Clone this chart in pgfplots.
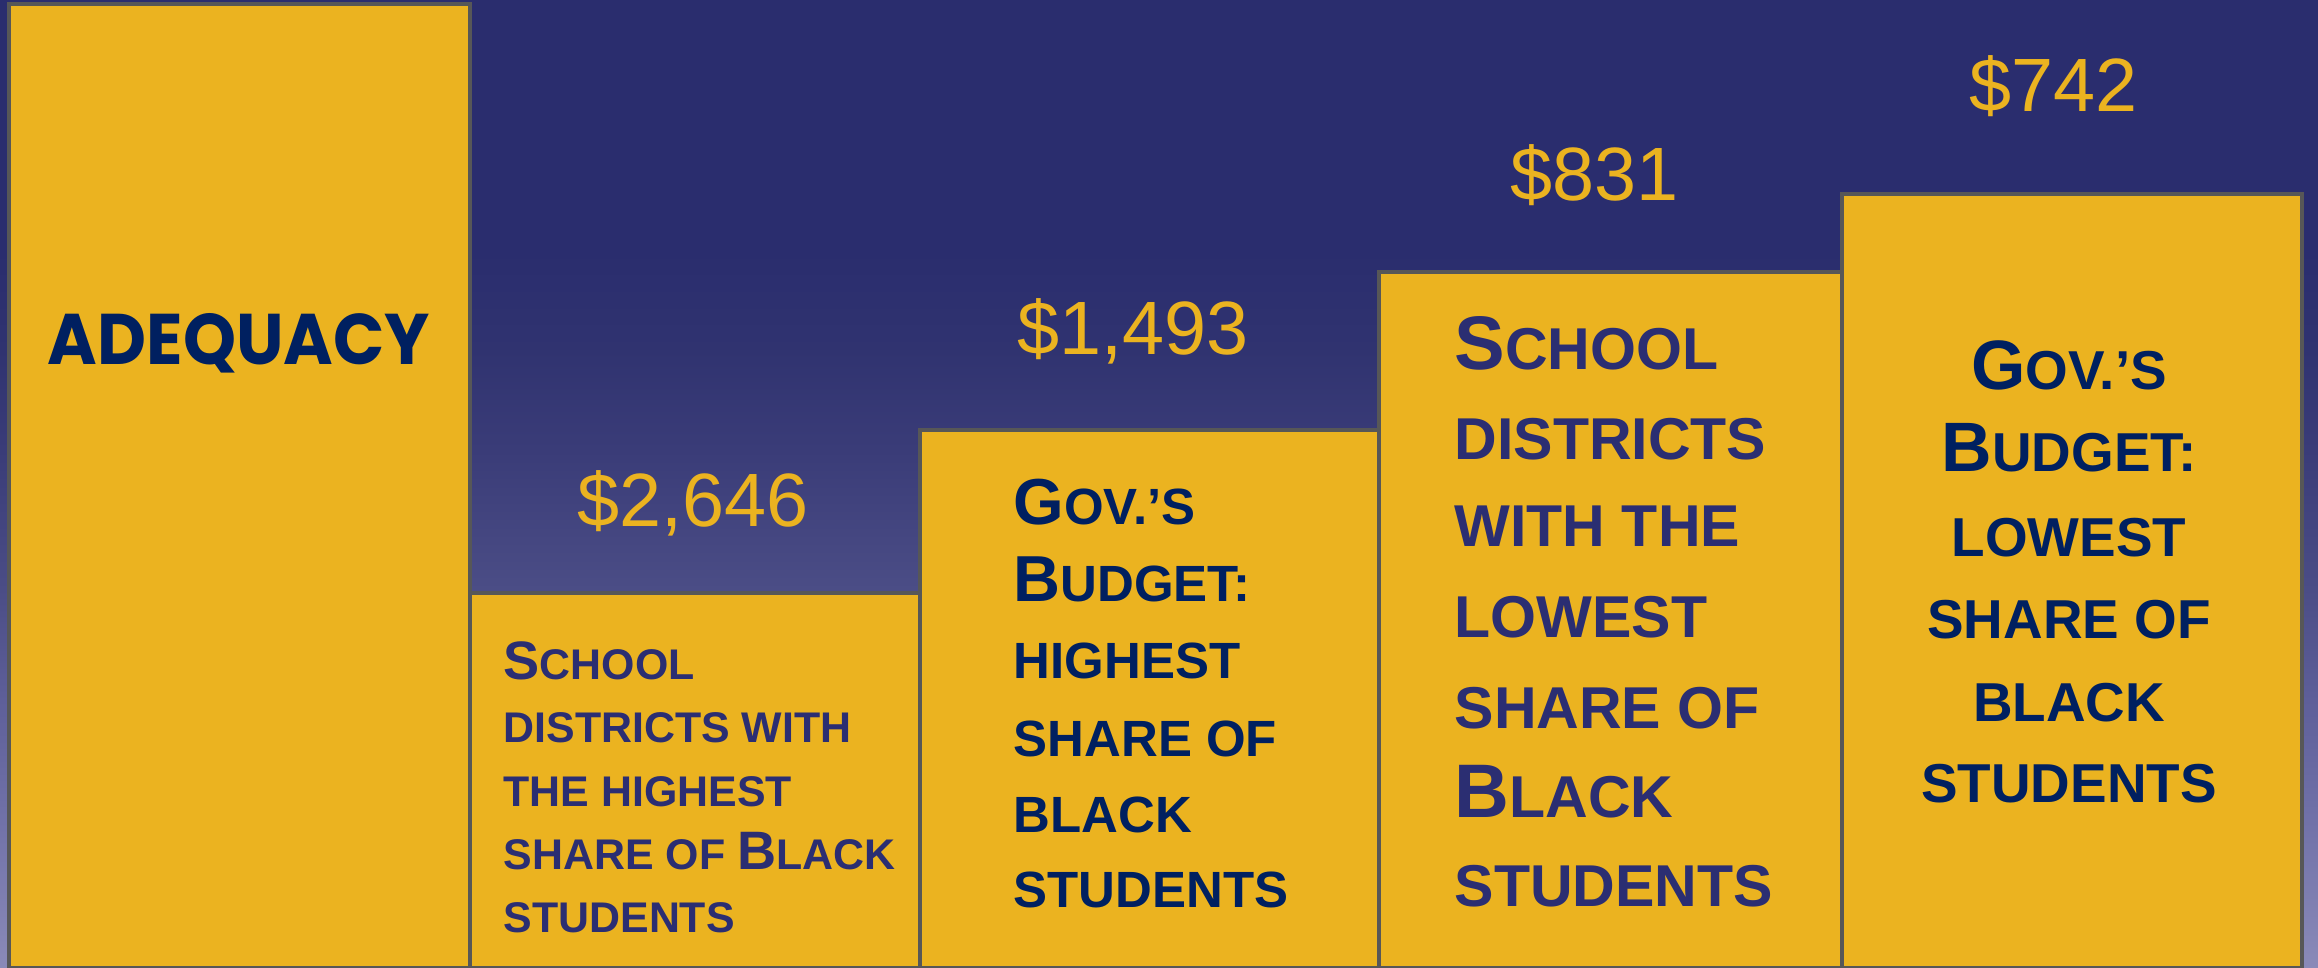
\documentclass[border=0pt]{standalone}
\usepackage{pgfplots}
\pgfplotsset{compat=1.18}
\usepackage{fontspec}
\setmainfont{Liberation Sans}
\newfontfamily\adqfont{Poppins}
\definecolor{gold}{HTML}{EBB320}
\definecolor{edge}{HTML}{575757}
\definecolor{navyA}{HTML}{002060}
\definecolor{navyB}{HTML}{2B2E72}
\definecolor{bg0}{HTML}{2A2D6E}
\definecolor{bg1}{HTML}{2A2D6E}
\definecolor{bg2}{HTML}{303370}
\definecolor{bg3}{HTML}{3A3C78}
\definecolor{bg4}{HTML}{4B4D86}
\definecolor{bg5}{HTML}{5E5F99}
\definecolor{bg6}{HTML}{6F70A7}
\definecolor{bg7}{HTML}{8A8AB8}
\pgfdeclareverticalshading{bgshade}{100bp}{color(0bp)=(bg7); color(25bp)=(bg7); color(33.16bp)=(bg6); color(38.84bp)=(bg5); color(44.52bp)=(bg4); color(51.76bp)=(bg3); color(56.92bp)=(bg2); color(62.09bp)=(bg1); color(75bp)=(bg0); color(100bp)=(bg0)}
\newcommand{\BigL}[2]{{\fontsize{#1}{#1}\selectfont #2}}
\newcommand{\Ln}[3]{\node[anchor=base west, inner sep=0pt] at (#1,#2) {#3};}
\newcommand{\Lc}[3]{\node[anchor=base, inner sep=0pt] at (#1,#2) {#3};}
\pgfplotsset{barsty/.style={fill=gold, draw=edge, line width=1pt},
  lbl/.style={every node near coord/.append style={anchor=base, text=gold, inner sep=0pt, font=\fontsize{21.5pt}{24pt}\selectfont}}}
\begin{document}
\begin{tikzpicture}
\useasboundingbox (0,0) rectangle (23.18,9.68);
\shade[shading=bgshade] (0,0) rectangle (23.18,9.68);
\begin{axis}[at={(0,0)}, anchor=south west, scale only axis,
  width=23.18cm, height=9.68cm,
  xmin=-0.5196, xmax=4.5349, ymin=5, ymax=973,
  hide axis, ybar, bar width=1, bar shift=0, clip=true]
% Adequacy
\addplot[barsty, bar width=1.005, bar shift=0.0026] coordinates {(0,969)};
% Districts with highest share of Black students
\addplot[barsty, bar width=0.9813, bar shift=-0.0041, lbl, nodes near coords={\$2,646},
  every node near coord/.append style={xshift=-0.02cm, yshift=0.66cm}] coordinates {(1,380)};
% Gov.'s budget: highest share
\addplot[barsty, bar width=1.0009, bar shift=-0.0131, lbl, nodes near coords={\$1,493},
  every node near coord/.append style={xshift=-0.16cm, yshift=0.75cm}] coordinates {(2,543)};
% Districts with lowest share
\addplot[barsty, bar width=1.0096, bar shift=-0.0078, lbl, nodes near coords={\$831},
  every node near coord/.append style={xshift=-0.16cm, yshift=0.71cm}] coordinates {(3,701)};
% Gov.'s budget: lowest share
\addplot[barsty, bar width=1.003, bar shift=-0.0016, lbl, nodes near coords={\$742},
  every node near coord/.append style={xshift=-0.18cm, yshift=0.82cm}] coordinates {(4,779)};
\end{axis}
% bar texts
\node[anchor=base, inner sep=0pt, xscale=0.94, text=navyA, font=\adqfont\bfseries\fontsize{20.4pt}{24pt}\selectfont] at (2.39,6.03) {ADEQUACY};
\begin{scope}[every node/.style={text=navyB, font=\bfseries\fontsize{12.2pt}{14pt}\selectfont}]
\Ln{5.03}{2.88}{\BigL{15.4pt}{S}CHOOL}
\Ln{5.03}{2.25}{DISTRICTS WITH}
\Ln{5.03}{1.61}{THE HIGHEST}
\Ln{5.03}{0.98}{SHARE OF \BigL{15.4pt}{B}LACK}
\Ln{5.03}{0.35}{STUDENTS}
\end{scope}
\begin{scope}[every node/.style={text=navyA, font=\bfseries\fontsize{14.5pt}{16pt}\selectfont}]
\Ln{10.13}{4.43}{\BigL{18.5pt}{G}OV.’S}
\Ln{10.13}{3.66}{\BigL{18.5pt}{B}UDGET:}
\Ln{10.13}{2.89}{HIGHEST}
\Ln{10.13}{2.11}{SHARE OF}
\Ln{10.13}{1.35}{BLACK}
\Ln{10.13}{0.60}{STUDENTS}
\end{scope}
\begin{scope}[every node/.style={text=navyB, font=\bfseries\fontsize{16.8pt}{18pt}\selectfont}]
\Ln{14.54}{5.98}{\BigL{21.6pt}{S}CHOOL}
\Ln{14.54}{5.08}{DISTRICTS}
\Ln{14.54}{4.21}{WITH THE}
\Ln{14.54}{3.30}{LOWEST}
\Ln{14.54}{2.39}{SHARE OF}
\Ln{14.54}{1.50}{\BigL{21.6pt}{B}LACK}
\Ln{14.54}{0.61}{STUDENTS}
\end{scope}
\begin{scope}[every node/.style={text=navyA, font=\bfseries\fontsize{15.6pt}{18pt}\selectfont}]
\Lc{20.69}{5.78}{\BigL{19.9pt}{G}OV.’S}
\Lc{20.69}{4.96}{\BigL{19.9pt}{B}UDGET:}
\Lc{20.69}{4.11}{LOWEST}
\Lc{20.69}{3.29}{SHARE OF}
\Lc{20.69}{2.46}{BLACK}
\Lc{20.69}{1.65}{STUDENTS}
\end{scope}
\end{tikzpicture}
\end{document}
